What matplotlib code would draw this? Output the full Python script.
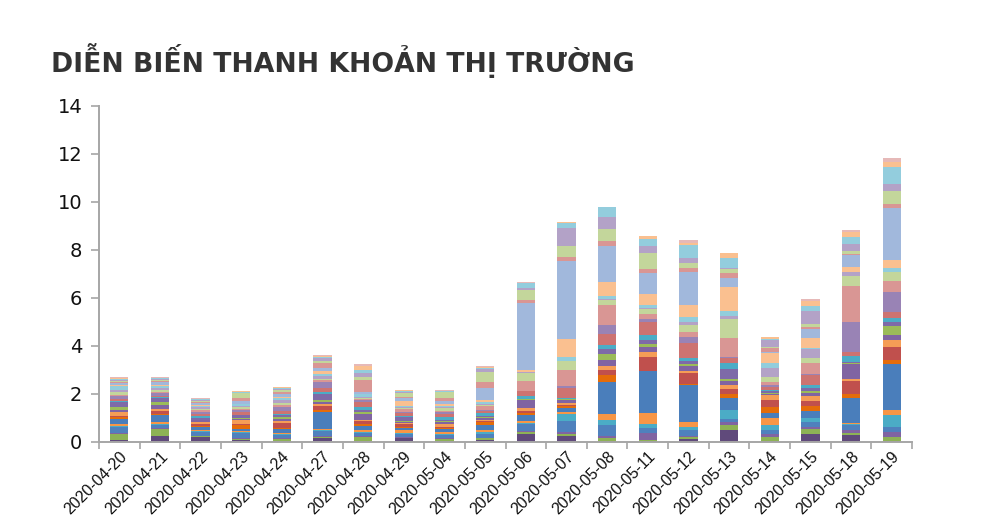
import matplotlib
matplotlib.use("Agg")
import matplotlib.pyplot as plt
import numpy as np

dates = ["2020-04-20", "2020-04-21", "2020-04-22", "2020-04-23", "2020-04-24",
         "2020-04-27", "2020-04-28", "2020-04-29", "2020-05-04", "2020-05-05",
         "2020-05-06", "2020-05-07", "2020-05-08", "2020-05-11", "2020-05-12",
         "2020-05-13", "2020-05-14", "2020-05-15", "2020-05-18", "2020-05-19"]

# stacked series, bottom to top (one value per date)
s01 = [.10, .25, .20, .10, .03, .15, .05, .15, .05, .10, .35, .26, .05, .05, .12, .51, .05, .35, .28, .05]
s02 = [.22, .30, .03, .03, .10, .05, .15, .03, .08, .05, .05, .07, .12, .05, .10, .18, .16, .21, .10, .16]
s03 = [.05, .05, .03, .03, .05, .05, .03, .03, .05, .03, .05, .07, .10, .28, .03, .14, .14, .05, .11, .21]
s04 = [.25, .10, .15, .20, .10, .20, .15, .12, .10, .15, .28, .47, .45, .22, .25, .14, .14, .23, .21, .21]
s05 = [.05, .05, .05, .05, .05, .05, .05, .03, .05, .10, .07, .28, .20, .17, .14, .35, .21, .14, .03, .49]
s06 = [.10, .08, .05, .05, .05, .05, .05, .12, .10, .05, .07, .12, .26, .43, .21, .03, .28, .03, .07, .21]
s07 = [.20, .30, .10, .10, .15, .70, .20, .10, .10, .24, .27, .14, 1.32, 1.74, 1.53, .49, .21, .28, 1.04, 1.94]
s08 = [.08, .05, .04, .15, .05, .08, .08, .05, .05, .10, .07, .07, .28, .03, .02, .14, .28, .21, .14, .14]
s09 = [.05, .12, .12, .05, .20, .15, .12, .12, .05, .05, .07, .07, .20, .56, .49, .21, .28, .21, .56, .56]
s10 = [.15, .08, .05, .15, .10, .10, .05, .05, .10, .05, .14, .07, .20, .21, .05, .17, .21, .21, .10, .28]
s11 = [.10, .15, .08, .05, .08, .10, .25, .05, .10, .10, .35, .14, .25, .20, .21, .18, .05, .14, .60, .21]
s12 = [.12, .15, .03, .03, .10, .05, .07, .03, .05, .03, .02, .02, .25, .15, .10, .10, .05, .05, .05, .38]
s13 = [.20, .15, .05, .12, .05, .25, .10, .15, .05, .05, .02, .02, .20, .14, .11, .39, .05, .16, .05, .18]
s14 = [.05, .05, .12, .03, .05, .10, .10, .05, .10, .10, .10, .02, .15, .21, .14, .28, .05, .10, .25, .14]
s15 = [.08, .05, .08, .10, .15, .15, .20, .12, .15, .10, .21, .45, .48, .56, .61, .21, .15, .42, .17, .24]
s16 = [.10, .10, .08, .10, .15, .25, .10, .05, .05, .05, .02, .05, .35, .14, .28, .02, .05, .03, 1.22, .83]
s17 = [.05, .05, .08, .05, .08, .10, .05, .12, .05, .15, .40, .70, .83, .21, .21, .79, .16, .46, 1.53, .46]
s18 = [.12, .10, .03, .05, .08, .05, .03, .03, .14, .05, .35, .35, .21, .21, .28, .80, .18, .24, .42, .38]
s19 = [.10, .05, .10, .08, .15, .10, .05, .05, .05, .05, .02, .02, .05, .02, .14, .14, .38, .36, .14, .02]
s20 = [.15, .10, .05, .05, .05, .12, .11, .05, .05, .05, .02, .14, .14, .14, .18, .17, .21, .03, .03, .18]
s21 = [.05, .05, .03, .03, .05, .10, .03, .20, .05, .10, .05, .75, .58, .46, .51, 1.01, .42, .44, .21, .32]
s22 = [.08, .10, .08, .10, .15, .15, .05, .14, .15, .50, 2.80, 3.26, 1.50, .86, 1.39, .38, .05, .35, .49, 2.18]
s23 = [.04, .05, .05, .15, .05, .20, .50, .05, .10, .25, .14, .17, .21, .17, .14, .21, .16, .08, .03, .14]
s24 = [.05, .05, .03, .18, .10, .08, .15, .15, .25, .40, .42, .46, .49, .67, .21, .18, .05, .13, .14, .56]
s25 = [.05, .04, .05, .03, .05, .10, .15, .05, .02, .15, .07, .76, .49, .28, .21, .02, .30, .56, .28, .28]
s26 = [.04, .04, .02, .04, .05, .05, .15, .05, .03, .05, .20, .21, .42, .31, .56, .44, .03, .21, .28, .69]
s27 = [.04, .02, .02, .02, .02, .05, .15, .03, .02, .03, .02, .02, .02, .11, .07, .18, .07, .21, .21, .21]
s28 = [.03, .02, .02, .02, .02, .03, .10, .01, .01, .02, .02, .02, .01, .02, .13, .03, .02, .05, .09, .17]

series = [s01, s02, s03, s04, s05, s06, s07, s08, s09, s10, s11, s12, s13, s14,
          s15, s16, s17, s18, s19, s20, s21, s22, s23, s24, s25, s26, s27, s28]

colors = ["#604A7B", "#8DB255", "#8064A2", "#4F81BD", "#4BACC6", "#F79646",
          "#4A7EBB", "#E46C0A", "#C0504D", "#F59D56", "#8064A2", "#9BBB59",
          "#7E6AA8", "#4BACC6", "#CD7371", "#9983B5", "#D99694", "#C3D69B",
          "#B3A2C7", "#92CDDC", "#FAC090", "#A1B8DC", "#D99694", "#C3D69B",
          "#B3A2C7", "#93CDDD", "#FAC090", "#E6B9B8"]

fig = plt.figure(figsize=(9.88, 5.27), dpi=100)
ax = fig.add_axes([0.1002, 0.1613, 0.8229, 0.6376])

x = np.arange(len(dates))
bottom = np.zeros(len(dates))
for vals, c in zip(series, colors):
    v = np.array(vals)
    ax.bar(x, v, width=0.45, bottom=bottom, color=c, edgecolor="none")
    bottom += v

ax.set_xlim(-0.5, len(dates) - 0.5)
ax.set_ylim(0, 14)
ax.set_yticks(np.arange(0, 15, 2))
ax.set_yticklabels([str(v) for v in range(0, 15, 2)], fontsize=14,
                   family="DejaVu Sans", color="#111111")
ax.set_xticks(x)
ax.set_xticklabels(dates, rotation=45, ha="right", rotation_mode="anchor",
                   fontsize=11.5, family="Liberation Sans", color="#111111")
ax.set_xticks(np.arange(-0.5, len(dates), 1.0), minor=True)
ax.tick_params(axis="x", which="major", length=0, pad=5)
ax.tick_params(axis="x", which="minor", length=5, color="#A6A6A6", width=1.2)
ax.tick_params(axis="y", length=6, color="#A6A6A6", width=1.2, pad=6)

for s in ["top", "right"]:
    ax.spines[s].set_visible(False)
for s in ["left", "bottom"]:
    ax.spines[s].set_color("#A6A6A6")
    ax.spines[s].set_linewidth(1.4)

fig.text(0.052, 0.885, "DIỄN BIẾN THANH KHOẢN THỊ TRƯỜNG", fontsize=19.2,
         fontweight="heavy", family="DejaVu Sans", color="#333333",
         ha="left", va="center")

fig.savefig("out.png", dpi=100)
